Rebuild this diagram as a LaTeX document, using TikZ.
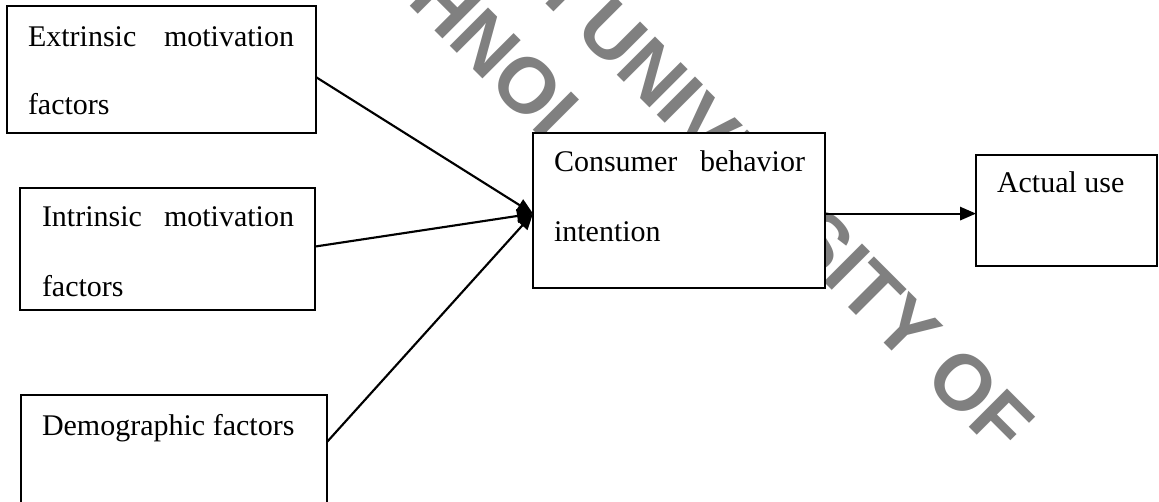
\documentclass[tikz,border=0pt]{standalone}
\usepackage{fontspec}
\setmainfont{Liberation Serif}
\newfontfamily\wmfont{Liberation Sans}
\usetikzlibrary{arrows.meta,calc}
\definecolor{wmgray}{RGB}{128,128,128}
\tikzset{
  box/.style={draw, line width=1.6pt, fill=white, inner sep=0pt, outer sep=0pt},
  lbl/.style={inner sep=0pt, outer sep=0pt, anchor=base west, align=left},
  wm/.style={inner sep=0pt, outer sep=0pt, rotate=-45, text=wmgray,
    font=\wmfont\bfseries\fontsize{59pt}{59pt}\selectfont},
  link/.style={line width=1.6pt, -{Triangle[length=12pt,width=10pt]}}
}
\begin{document}
\begin{tikzpicture}[x=0.75pt, y=-0.75pt]
  \useasboundingbox (0,0) rectangle (1159,502);

  % diagonal watermark behind the diagram
  \begin{scope}
    \clip (0,0) rectangle (1159,502);
    \node[wm, anchor=base west] (wm-tech) at (295,-108.5) {TECHNOLOGY};
    \node[wm, anchor=base west] (wm-univ) at (573,31.3) {UNIVERSITY OF};
    \node[wm, anchor=base east] (wm-name) at (557.3,15.6) {NKRUMAH};
  \end{scope}

  % boxes
  \node[box, minimum width=231.75pt, minimum height=95.25pt] (ext)  at (161.5,69.5) {};
  \node[box, minimum width=221.25pt, minimum height=91.5pt]  (int)  at (167.5,249) {};
  \node[box, minimum width=229.5pt,  minimum height=82.5pt]  (demo) at (174,450) {};
  \node[box, minimum width=219pt,    minimum height=116.25pt] (cons) at (679,210.5) {};
  \node[box, minimum width=135.75pt, minimum height=83.25pt] (use)  at (1066.5,210.5) {};

  % box texts
  \node[lbl, text width=199.5pt, font=\fontsize{22.5pt}{51pt}\selectfont] (ext-txt) at (28,47)
    {Extrinsic\hfill motivation\\factors};
  \node[lbl, text width=189pt, font=\fontsize{22.5pt}{52.5pt}\selectfont] (int-txt) at (42,227)
    {Intrinsic\hfill motivation\\factors};
  \node[lbl, font=\fontsize{22.5pt}{27pt}\selectfont] (demo-txt) at (42,435) {Demographic factors};
  \node[lbl, text width=188.25pt, font=\fontsize{22.5pt}{52.5pt}\selectfont] (cons-txt) at (554,172)
    {Consumer\hfill behavior\\intention};
  \node[lbl, font=\fontsize{22.5pt}{27pt}\selectfont] (use-txt) at (997,193) {Actual use};

  % connectors
  \coordinate (hub) at ($(cons.north west)!0.52!(cons.south west)$);
  \draw[link] ($(ext.north east)!0.56!(ext.south east)$) -- (hub);
  \draw[link] ($(int.north east)!0.48!(int.south east)$) -- (hub);
  \draw[link] ($(demo.north east)!0.427!(demo.south east)$) -- (hub);
  \draw[link] (cons.east |- hub) -- (use.west |- hub);
\end{tikzpicture}
\end{document}
